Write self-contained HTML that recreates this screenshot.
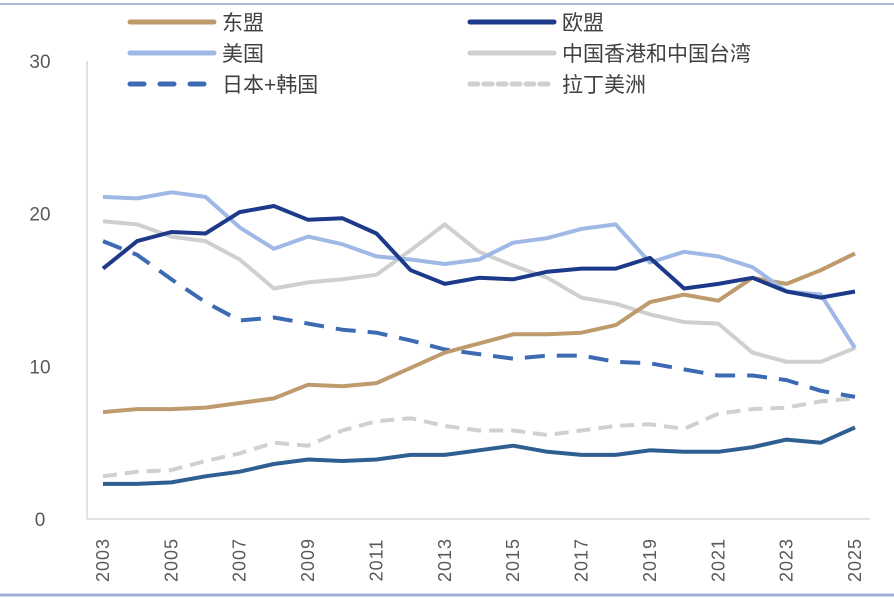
<!DOCTYPE html>
<html><head><meta charset="utf-8"><style>
body{margin:0;background:#fff;}
svg{display:block;font-family:"Liberation Sans","Noto Sans CJK SC",sans-serif;}
</style></head><body>
<svg id="chart" width="894" height="598" viewBox="0 0 894 598">
<line x1="0" y1="4" x2="894" y2="4" stroke="#a9bbdc" stroke-width="2"/>
<line x1="0" y1="595" x2="894" y2="595" stroke="#9fb2d6" stroke-width="3"/>
<g id="legend"></g>
<g id="axes"></g>
<g id="series"></g>
</svg>
<script>
const years=[2003,2004,2005,2006,2007,2008,2009,2010,2011,2012,2013,2014,2015,2016,2017,2018,2019,2020,2021,2022,2023,2024,2025];
const yTicks=[0,10,20,30];
const xTickLabels=[2003,2005,2007,2009,2011,2013,2015,2017,2019,2021,2023,2025];
const asean=[7.0,7.2,7.2,7.3,7.6,7.9,8.8,8.7,8.9,9.9,10.9,11.5,12.1,12.1,12.2,12.7,14.2,14.7,14.3,15.8,15.4,16.3,17.4];
const eu=[16.4,18.2,18.8,18.7,20.1,20.5,19.6,19.7,18.7,16.3,15.4,15.8,15.7,16.2,16.4,16.4,17.1,15.1,15.4,15.8,14.9,14.5,14.9];
const usa=[21.1,21.0,21.4,21.1,19.1,17.7,18.5,18.0,17.2,17.0,16.7,17.0,18.1,18.4,19.0,19.3,16.8,17.5,17.2,16.5,14.9,14.7,11.2];
const hktw=[19.5,19.3,18.5,18.2,17.0,15.1,15.5,15.7,16.0,17.6,19.3,17.5,16.6,15.8,14.5,14.1,13.4,12.9,12.8,10.9,10.3,10.3,11.2];
const jpkr=[18.2,17.3,15.7,14.2,13.0,13.2,12.8,12.4,12.2,11.7,11.1,10.8,10.5,10.7,10.7,10.3,10.2,9.8,9.4,9.4,9.1,8.4,8.0];
const latam=[2.8,3.1,3.2,3.8,4.3,5.0,4.8,5.8,6.4,6.6,6.1,5.8,5.8,5.5,5.8,6.1,6.2,5.9,6.9,7.2,7.3,7.7,7.9];
const other=[2.3,2.3,2.4,2.8,3.1,3.6,3.9,3.8,3.9,4.2,4.2,4.5,4.8,4.4,4.2,4.2,4.5,4.4,4.4,4.7,5.2,5.0,6.0];

const NS="http://www.w3.org/2000/svg";
const X0=103,X1=855,Y0=519,Y30=61;
function xs(yr){return X0+(yr-years[0])*(X1-X0)/(years[years.length-1]-years[0]);}
function ys(v){return Y0-v*(Y0-Y30)/30;}
function mk(tag,attrs,parent){const e=document.createElementNS(NS,tag);for(const k in attrs)e.setAttribute(k,attrs[k]);parent.appendChild(e);return e;}
const axes=document.getElementById('axes');
const yl=mk('line',{x1:87,y1:61,x2:87,y2:519,stroke:'#d9d9d9','stroke-width':1.5},axes);


const xl=mk('line',{x1:87,y1:519,x2:870,y2:519,stroke:'#d9d9d9','stroke-width':1.5},axes);


yTicks.forEach(t=>{const e=mk('text',{x:40,y:ys(t)+7,'font-size':19,fill:'#595959','text-anchor':'middle'},axes);e.textContent=t;

});
xTickLabels.forEach(t=>{const x=xs(t)+6;const e=mk('text',{x:x,y:560,'font-size':18,fill:'#595959','text-anchor':'middle',transform:`rotate(-90 ${x} 560)`,'letter-spacing':'1'},axes);e.textContent=t;

});
const seriesDefs=[
 {d:other,c:'#2f5f91',dash:null,name:'series-other'},
 {d:latam,c:'#d0d0d0',dash:'14 8',name:'series-latin-america'},
 {d:hktw,c:'#cfcfcf',dash:null,name:'series-hk-tw'},
 {d:jpkr,c:'#3d6bb3',dash:'20 12',name:'series-japan-korea'},
 {d:asean,c:'#bf9a6c',dash:null,name:'series-asean'},
 {d:usa,c:'#9fb8e6',dash:null,name:'series-usa'},
 {d:eu,c:'#1d3a8a',dash:null,name:'series-eu'}];
const sg=document.getElementById('series');
seriesDefs.forEach(s=>{const pts=s.d.map((v,i)=>xs(years[i]).toFixed(1)+','+ys(v).toFixed(1)).join(' ');
const p=mk('polyline',{points:pts,fill:'none',stroke:s.c,'stroke-width':4,'stroke-linejoin':'round'},sg);
if(s.dash)p.setAttribute('stroke-dasharray',s.dash);

});
const lg=document.getElementById('legend');
const legendItems=[
 {t:'东盟',c:'#bf9a6c',dash:null,x:130,y:22},
 {t:'欧盟',c:'#1d3a8a',dash:null,x:470,y:22},
 {t:'美国',c:'#9fb8e6',dash:null,x:130,y:53},
 {t:'中国香港和中国台湾',c:'#cfcfcf',dash:null,x:470,y:53},
 {t:'日本+韩国',c:'#3d6bb3',dash:'14 16',x:130,y:84},
 {t:'拉丁美洲',c:'#cfcfcf',dash:'8 6',x:470,y:84}];
legendItems.forEach(it=>{const g=mk('g',{},lg);


const l=mk('line',{x1:it.x,y1:it.y,x2:it.x+84,y2:it.y,stroke:it.c,'stroke-width':5,'stroke-linecap':'round'},g);
if(it.dash)l.setAttribute('stroke-dasharray',it.dash);
const tx=mk('text',{x:it.x+92,y:it.y+8,'font-size':21,fill:'#404040'},g);tx.textContent=it.t;});
</script>
</body></html>
